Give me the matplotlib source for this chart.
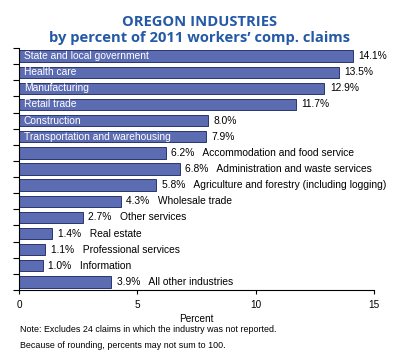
import matplotlib
matplotlib.use("Agg")
import matplotlib.pyplot as plt
import numpy as np

categories = ["State and local government", "Health care", "Manufacturing", "Retail trade",
              "Construction", "Transportation and warehousing", "Accommodation and food service",
              "Administration and waste services", "Agriculture and forestry (including logging)",
              "Wholesale trade", "Other services", "Real estate", "Professional services",
              "Information", "All other industries"]
values = [14.1, 13.5, 12.9, 11.7, 8.0, 7.9, 6.2, 6.8, 5.8, 4.3, 2.7, 1.4, 1.1, 1.0, 3.9]
inside = [True] * 6 + [False] * 9
xticks = [0, 5, 10, 15]

plt.rcParams['font.family'] = ['Liberation Sans', 'DejaVu Sans']

fig = plt.figure(figsize=(4, 3.55), dpi=100)
ax = fig.add_axes([0.0475, 1 - 290 / 355, 0.935 - 0.0475, (290 - 48) / 355])

n = len(values)
y = np.arange(n)
ax.barh(y, values, height=0.7, color="#5b6cb2", edgecolor="#2a3570", linewidth=0.7)
ax.set_ylim(n - 0.5, -0.5)
ax.set_xlim(0, 15)

fs = 7.35
for i, (c, v, ins) in enumerate(zip(categories, values, inside)):
    if ins:
        ax.text(0.2, i, c, color="white", fontsize=fs, va="center", ha="left")
        ax.annotate(f"{v:.1f}%", (v, i), xytext=(4, 0), textcoords="offset points",
                    color="black", fontsize=fs, va="center", ha="left")
    else:
        ax.annotate(f"{v:.1f}%   {c}", (v, i), xytext=(4, 0), textcoords="offset points",
                    color="black", fontsize=fs, va="center", ha="left")

ax.set_yticks(np.arange(-0.5, n, 1))
ax.set_yticklabels([])
ax.tick_params(axis="y", length=4, width=0.8, direction="out")
ax.set_xticks(xticks)
ax.set_xticklabels([str(t) for t in xticks], fontsize=7.2)
ax.tick_params(axis="x", length=3, width=0.8, direction="out", pad=4)
for s in ["top", "right"]:
    ax.spines[s].set_visible(False)
ax.set_xlabel("Percent", fontsize=7.2, labelpad=3)

fig.text(0.5, 1 - 22 / 355, "OREGON INDUSTRIES", ha="center", va="center",
         fontsize=10.6, fontweight="bold", color="#2459a6", family="Open Sans")
fig.text(0.5, 1 - 38 / 355, "by percent of 2011 workers\u2019 comp. claims", ha="center", va="center",
         fontsize=10.6, fontweight="bold", color="#2459a6", family="Open Sans")

fig.text(20 / 400, 1 - 330 / 355, "Note: Excludes 24 claims in which the industry was not reported.",
         fontsize=6.4, va="center", ha="left")
fig.text(20 / 400, 1 - 345 / 355, "Because of rounding, percents may not sum to 100.",
         fontsize=6.4, va="center", ha="left")

fig.savefig("out.png", dpi=100)
